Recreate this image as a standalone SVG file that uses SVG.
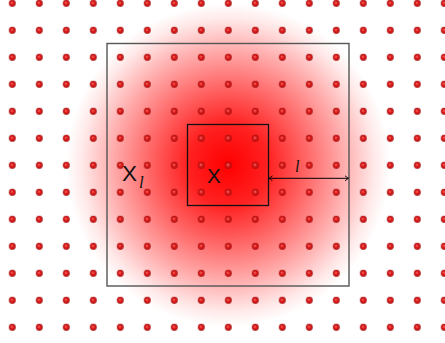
<svg xmlns="http://www.w3.org/2000/svg" width="445" height="343" viewBox="0 0 445 343">
<defs>
<radialGradient id="glow" gradientUnits="userSpaceOnUse" cx="228" cy="165" r="162">
<stop offset="0" stop-color="#ff0000" stop-opacity="1"/>
<stop offset="0.25" stop-color="#ff0000" stop-opacity="0.87"/>
<stop offset="0.5" stop-color="#ff0000" stop-opacity="0.58"/>
<stop offset="0.75" stop-color="#ff0000" stop-opacity="0.28"/>
<stop offset="0.9" stop-color="#ff0000" stop-opacity="0.09"/>
<stop offset="1" stop-color="#ff0000" stop-opacity="0"/>
</radialGradient>
<radialGradient id="ball" cx="0.5" cy="0.5" r="0.5" fx="0.42" fy="0.4">
<stop offset="0" stop-color="#ff8c8c"/>
<stop offset="0.35" stop-color="#e42424"/>
<stop offset="0.8" stop-color="#c41010"/>
<stop offset="1" stop-color="#9a0a0a"/>
</radialGradient>
<pattern id="dots" patternUnits="userSpaceOnUse" x="-1.2" y="-10.2" width="27" height="27">
<circle cx="13.5" cy="13.5" r="3.4" fill="url(#ball)"/>
</pattern>
<marker id="tip" viewBox="-4 -3 5 6" refX="0" refY="0" markerWidth="5" markerHeight="6" orient="auto-start-reverse" markerUnits="userSpaceOnUse">
<path d="M-3.5,-2.5 Q-1,-0.6 0,0 Q-1,0.6 -3.5,2.5" fill="none" stroke="#000" stroke-width="0.9"/>
</marker>
<style>
.lbl{font-family:"Liberation Sans","DejaVu Sans",sans-serif;fill:#111}
.ell{font-family:"Liberation Serif","DejaVu Serif",serif;font-style:italic;fill:#111}
</style>
</defs>
<rect x="66" y="3" width="324" height="324" fill="url(#glow)"/>
<rect x="0" y="0" width="445" height="343" fill="url(#dots)"/>
<g id="outer">
<rect x="107" y="43.5" width="242" height="242.5" fill="none" stroke="#555" stroke-width="1.4"/>
<text class="lbl" x="122" y="180.5" font-size="22.5">X</text>
<text class="ell" x="139" y="187.5" font-size="17">l</text>
</g>
<g id="inner">
<rect x="187.5" y="124.5" width="81" height="81" fill="none" stroke="#111" stroke-width="1.3"/>
<text class="lbl" x="207" y="182.7" font-size="20.5">X</text>
</g>
<g id="connectors">
<line x1="269" y1="178.3" x2="348.5" y2="178.3" stroke="#000" stroke-width="1" marker-start="url(#tip)" marker-end="url(#tip)"/>
<text class="ell" x="295" y="172" font-size="16">l</text>
</g>
</svg>
